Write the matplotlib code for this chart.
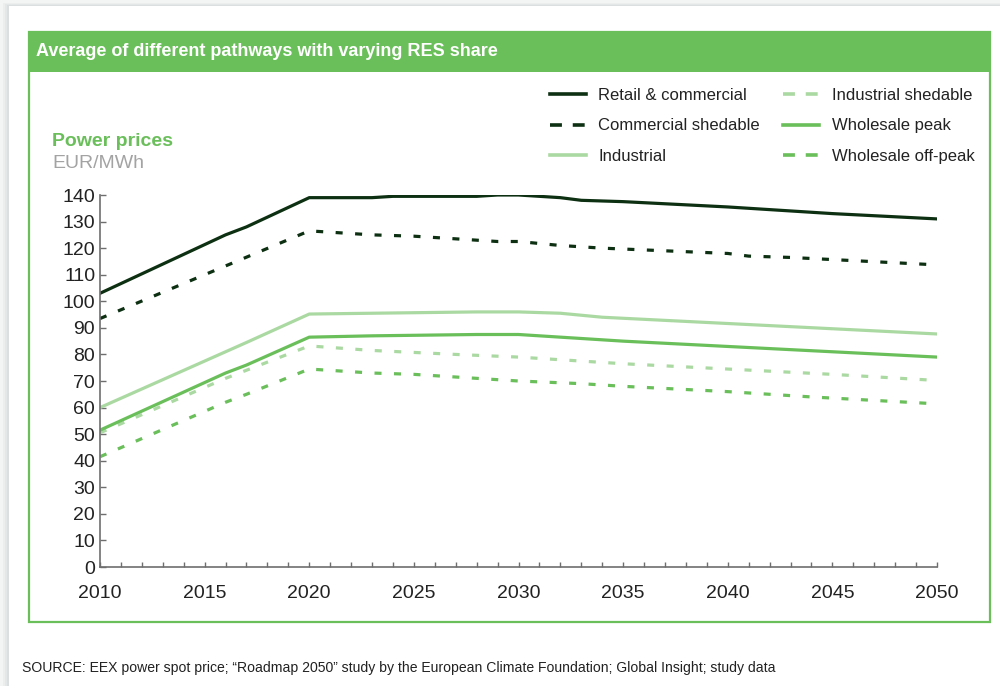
import matplotlib.pyplot as plt
from matplotlib.patches import Rectangle
from matplotlib.lines import Line2D
import numpy as np

plt.rcParams['font.family'] = ['Liberation Sans', 'DejaVu Sans']

dark = '#0d3012'
mid = '#6abf5b'
light = '#abd9a2'
axis_gray = '#6e6e6e'

# values (EUR/MWh)
retail_years = [2010, 2016, 2017, 2020, 2023, 2024, 2028, 2029, 2030, 2032, 2033, 2035, 2040, 2045, 2050]
retail = [103, 125, 128, 139, 139, 139.5, 139.5, 140, 140, 139, 138, 137.5, 135.5, 133, 131]

com_shed_years = [2010, 2020, 2023, 2025, 2027, 2029, 2030, 2032, 2034, 2040, 2041, 2043, 2050]
com_shed = [93.5, 126.5, 125, 124.5, 123.5, 122.5, 122.5, 121, 120, 118, 117, 116.5, 113.7]

industrial_years = [2010, 2016, 2017, 2020, 2023, 2028, 2030, 2032, 2034, 2050]
industrial = [60, 81, 84.5, 95.2, 95.5, 96, 96, 95.5, 94, 87.7]

ind_shed_years = [2010, 2016, 2020, 2023, 2027, 2030, 2033, 2035, 2040, 2045, 2050]
ind_shed = [50.5, 71, 83.2, 81.5, 80, 79, 77.5, 76.5, 74.5, 72.5, 70.2]

peak_years = [2010, 2016, 2017, 2020, 2023, 2028, 2030, 2033, 2035, 2050]
peak = [51.5, 73, 76, 86.5, 87, 87.5, 87.5, 86, 85, 79]

offpeak_years = [2010, 2016, 2017, 2020, 2023, 2025, 2030, 2033, 2035, 2040, 2044, 2050]
offpeak = [41.5, 62, 65, 74.5, 73, 72.5, 70, 69, 68, 66, 64, 61.4]

fig = plt.figure(figsize=(10, 6.86), dpi=100)

# page shadow on top/left
for i, c in enumerate(['#dcdfdf', '#e4e7e7', '#eceeee', '#f3f4f4']):
    fig.add_artist(Rectangle((0, 1 - (6 - i) / 686), 1, (6 - i) / 686, transform=fig.transFigure,
                             color=c, lw=0, zorder=0))
    fig.add_artist(Rectangle((0, 0), (9 - 2 * i) / 1000, 1, transform=fig.transFigure,
                             color=c, lw=0, zorder=0))

# green box and header
fig.add_artist(Rectangle((29 / 1000, 1 - 622 / 686), 961 / 1000, 590 / 686, transform=fig.transFigure,
                         facecolor='white', edgecolor=mid, lw=1.6, zorder=1))
fig.add_artist(Rectangle((28 / 1000, 1 - 72 / 686), 963 / 1000, 41 / 686, transform=fig.transFigure,
                         facecolor=mid, edgecolor='none', zorder=2))
fig.text(36 / 1000, 1 - 52 / 686, 'Average of different pathways with varying RES share',
         color='white', fontsize=13, fontweight='bold', va='center', zorder=3)

fig.text(52 / 1000, 1 - 142 / 686, 'Power prices', color=mid, fontsize=14, fontweight='bold', va='center')
fig.text(52 / 1000, 1 - 163 / 686, 'EUR/MWh', color='#a3a3a3', fontsize=14, va='center')

fig.text(22 / 1000, 1 - 668 / 686,
         'SOURCE: EEX power spot price; \u201cRoadmap 2050\u201d study by the European Climate Foundation; Global Insight; study data',
         fontsize=10.1, color='#222222', va='center')

ax = fig.add_axes([0.1, 1 - 567 / 686, 0.837, (567 - 195) / 686])
ax.set_zorder(4)
ax.patch.set_alpha(0)

lw = 2.3
dash = (2.2, 3.9)
ax.plot(retail_years, retail, color=dark, lw=lw)
ax.plot(com_shed_years, com_shed, color=dark, lw=lw, dashes=dash)
ax.plot(industrial_years, industrial, color=light, lw=lw)
ax.plot(ind_shed_years, ind_shed, color=light, lw=lw, dashes=dash)
ax.plot(peak_years, peak, color=mid, lw=lw)
ax.plot(offpeak_years, offpeak, color=mid, lw=lw, dashes=dash)

ax.set_xlim(2010, 2050)
ax.set_ylim(0, 140)
ax.set_xticks(np.arange(2010, 2051, 5))
ax.set_xticks(np.arange(2010, 2051, 1), minor=True)
ax.set_yticks(np.arange(0, 141, 10))
for s in ['top', 'right']:
    ax.spines[s].set_visible(False)
for s in ['left', 'bottom']:
    ax.spines[s].set_color(axis_gray)
    ax.spines[s].set_linewidth(1.2)
ax.tick_params(axis='x', which='both', direction='in', length=3.5, width=1, color=axis_gray,
               labelsize=14, labelcolor='#222222', pad=13)
ax.tick_params(axis='y', direction='in', length=4.5, width=1, color=axis_gray,
               labelsize=14, labelcolor='#222222', pad=3.5)

leg_dash = (3.3, 3.0)
handles = [
    Line2D([], [], color=dark, lw=2.6),
    Line2D([], [], color=dark, lw=2.6, dashes=leg_dash),
    Line2D([], [], color=light, lw=2.6),
    Line2D([], [], color=light, lw=2.6, dashes=leg_dash),
    Line2D([], [], color=mid, lw=2.6),
    Line2D([], [], color=mid, lw=2.6, dashes=leg_dash),
]
labels = ['Retail & commercial', 'Commercial shedable', 'Industrial',
          'Industrial shedable', 'Wholesale peak', 'Wholesale off-peak']
leg = fig.legend(handles, labels, ncol=2, loc='upper left', bbox_to_anchor=(550 / 1000, 1 - 88 / 686),
                 frameon=False, fontsize=12, handlelength=2.15, handletextpad=0.75,
                 columnspacing=1.4, labelspacing=0.92, borderpad=0, borderaxespad=0)
for t in leg.get_texts():
    t.set_color('#222222')

fig.savefig('out.png', dpi=100)
